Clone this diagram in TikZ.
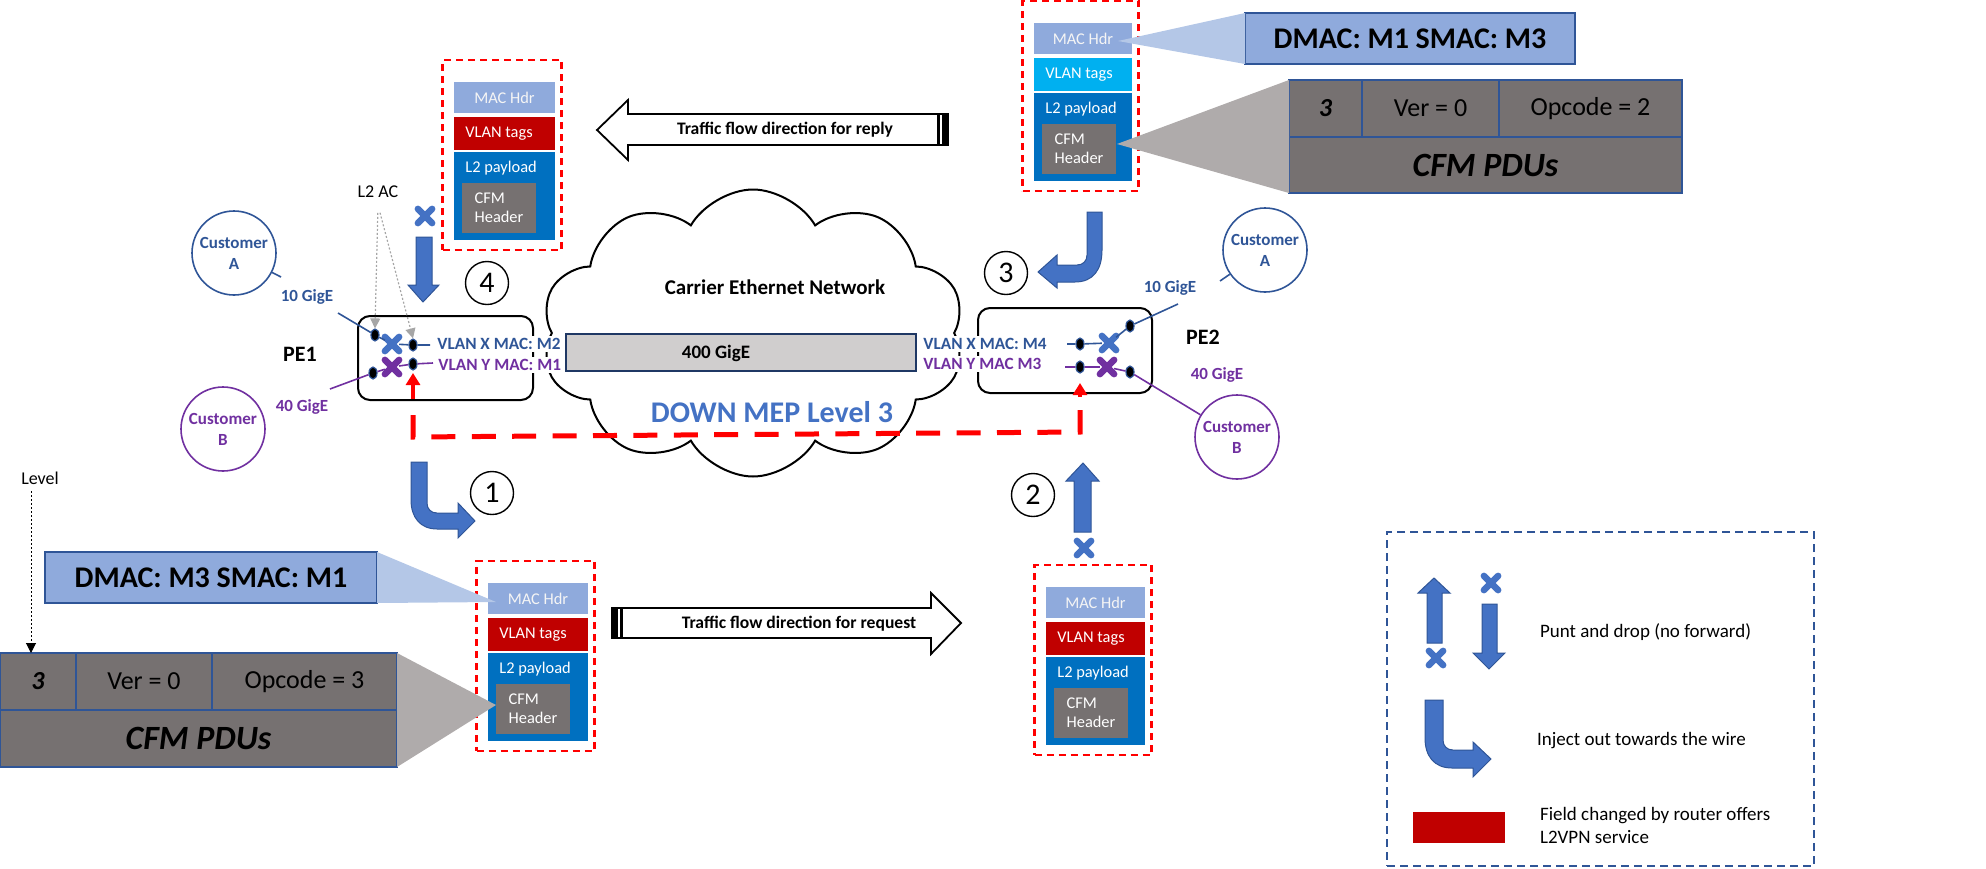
\documentclass[tikz,border=0pt]{standalone}
\usepackage{fontspec}
\setmainfont{Carlito}
\usetikzlibrary{shapes.geometric,shapes.symbols,shapes.misc,arrows.meta}

\definecolor{macblue}{HTML}{8FAADC}
\definecolor{vlanred}{HTML}{C00000}
\definecolor{vlancyan}{HTML}{00B0F0}
\definecolor{payblue}{HTML}{0070C0}
\definecolor{cfmgray}{HTML}{767171}
\definecolor{wedgeblue}{HTML}{B4C7E7}
\definecolor{wedgegray}{HTML}{AFABAB}
\definecolor{navy}{HTML}{2F5597}
\definecolor{dnavy}{HTML}{1F3864}
\definecolor{abl}{HTML}{4472C4}
\definecolor{purp}{HTML}{7030A0}
\definecolor{barg}{HTML}{D0CECE}
\definecolor{lgray}{HTML}{A6A6A6}

\newcommand{\fsz}[2]{\fontsize{#1}{#2}\selectfont}
% name, x1, y1, x2, y2, style, text
\newcommand{\bx}[7]{\node[#6,inner sep=0pt,outer sep=0pt,minimum width={((#4)-(#2))*0.5pt},minimum height={((#5)-(#3))*0.5pt}] (#1) at ({((#2)+(#4))/2},{((#3)+(#5))/2}) {#7};}
% prefix, x1, y1, width, vlan colour
\newcommand{\packet}[5]{%
 \bx{#1red}{#2-11.5}{#3-22}{#2+#4+6.5}{#3+168}{pktred}{}
 \bx{#1mac}{#2}{#3}{#2+#4}{#3+31}{fill=macblue,pkttxt,text=white!92!gray}{MAC Hdr}
 \bx{#1vlan}{#2}{#3+35}{#2+#4}{#3+68}{fill=#5}{}
 \node[pkttxt,anchor=west,inner sep=0pt] (#1vlant) at ({#2+11},{#3+51.5}) {VLAN tags};
 \bx{#1pay}{#2}{#3+70}{#2+#4}{#3+158}{fill=payblue}{}
 \node[pkttxt,anchor=west,inner sep=0pt] (#1payt) at ({#2+11},{#3+86}) {L2 payload};
 \bx{#1cfm}{#2+8}{#3+101}{#2+82}{#3+151}{fill=cfmgray,pkttxt,align=left}{CFM\\Header}
}

\tikzset{
 pktred/.style={draw=red,line width=1.1pt,dash pattern=on 3.5pt off 2.5pt},
 pkttxt/.style={text=white,font=\fsz{8.2pt}{9.5pt}},
 dmac/.style={fill=macblue,draw=navy,line width=1pt,font=\fsz{15pt}{18pt}\bfseries},
 cell/.style={fill=cfmgray,draw=navy,line width=1pt,font=\fsz{13pt}{15pt}},
 port/.style={ellipse,fill=black,draw=navy,line width=0.6pt,minimum width=4pt,minimum height=6pt,inner sep=0pt},
 xm/.style={cross out,draw=#1,line width=3.3pt,line cap=round,minimum size=3.8pt,inner sep=0pt},
 custA/.style={circle,draw=navy,line width=0.8pt,minimum size=42pt,inner sep=0pt,align=center,text=navy,font=\fsz{8.5pt}{10.5pt}\bfseries},
 custB/.style={circle,draw=purp,line width=0.8pt,minimum size=42pt,inner sep=0pt,align=center,text=purp,font=\fsz{8.5pt}{10.5pt}\bfseries},
 lnA/.style={draw=navy,line width=0.8pt},
 lnB/.style={draw=purp,line width=0.8pt},
 gigA/.style={text=navy,font=\fsz{8.5pt}{10pt}\bfseries},
 gigB/.style={text=purp,font=\fsz{8.5pt}{10pt}\bfseries},
 vlanA/.style={anchor=west,fill=white,inner sep=1pt,text=navy,font=\fsz{8.6pt}{10pt}\bfseries},
 vlanB/.style={anchor=west,fill=white,inner sep=1pt,text=purp,font=\fsz{8.6pt}{10pt}\bfseries},
 petxt/.style={font=\fsz{11pt}{13pt}\bfseries},
 pebox/.style={draw=black,line width=1pt,rounded corners=6pt},
 redarr/.style={draw=red,line width=2pt,-{Triangle[width=7pt,length=6pt]}},
 mep/.style={draw=red,line width=2.5pt,dash pattern=on 12pt off 8.2pt},
 barrow/.style={fill=abl,draw=navy,line width=0.5pt},
 flowarr/.style={draw=black,fill=white,line width=0.9pt,line join=miter},
 flowtxt/.style={font=\fsz{8.8pt}{10pt}\bfseries},
 cnum/.style={circle,draw=black,line width=0.7pt,minimum size=21.5pt,inner sep=0pt,font=\fsz{15pt}{15pt}},
 acarr/.style={draw=lgray,line width=0.6pt,dash pattern=on 1pt off 1pt,-{Triangle[width=5pt,length=5pt,fill=lgray]}},
 lvarr/.style={draw=black,line width=0.5pt,dash pattern=on 1pt off 1pt,-{Triangle[width=5pt,length=5pt]}},
 legtxt/.style={anchor=west,font=\fsz{9.5pt}{11.5pt},align=left},
 legbox/.style={draw=navy,line width=1pt,dash pattern=on 4pt off 2.5pt}
}

\begin{document}
\begin{tikzpicture}[x=0.5pt,y=-0.5pt]
\useasboundingbox (0,0) rectangle (1986,868);

% ---------- cloud ----------
\node[cloud,draw,line width=1pt,fill=white,cloud puffs=10,cloud puff arc=120,cloud ignores aspect,
  minimum width=211.5pt,minimum height=143.5pt,inner sep=0pt] (cloud) at (753,333) {};
\node[font=\fsz{10.5pt}{12pt}\bfseries] (cen) at (775,287) {Carrier Ethernet Network};

% ---------- PE boxes ----------
\bx{pe1}{358}{316}{533}{400}{pebox}{}
\bx{pe2}{978}{308}{1152}{393}{pebox}{}
\node[petxt] (pe1t) at (300,354) {PE1};
\node[petxt] (pe2t) at (1203,337) {PE2};

% ---------- 400G bar ----------
\bx{bar}{566}{334}{916}{371}{fill=barg,draw=dnavy,line width=1pt}{}
\node[font=\fsz{9.5pt}{11pt}\bfseries] (bart) at (716,353) {400 GigE};

% ---------- customers ----------
\node[custA] (cAL) at (234,253) {Customer\\A};
\node[custB] (cBL) at (223,429) {Customer\\B};
\node[custA] (cAR) at (1265,250) {Customer\\A};
\node[custB] (cBR) at (1237,437) {Customer\\B};

% ---------- ports and crosses ----------
\node[port] (dL1) at (375,335) {};
\node[port] (dL2) at (413,345) {};
\node[port] (dL3) at (413,364) {};
\node[port] (dL4) at (373,373) {};
\node[xm=abl] (xL1) at (392,344) {};
\node[xm=purp] (xL2) at (392,367) {};
\node[port] (dR1) at (1080,344) {};
\node[port] (dR2) at (1080,367) {};
\node[port] (dR3) at (1130,326) {};
\node[port] (dR4) at (1130,372) {};
\node[xm=abl] (xR1) at (1109,343) {};
\node[xm=purp] (xR2) at (1107,367) {};

\coordinate (tA1) at (281,277);
\coordinate (tA2) at (338,313);
\coordinate (eL1) at (430,345);
\coordinate (tB1) at (330,389);
\coordinate (eL2) at (433,363);
\coordinate (sR1) at (1067,344);
\coordinate (sR2) at (1065,367);
\coordinate (tR1) at (1178,304);
\coordinate (tR2) at (1220,281);

\draw[lnA] (cAL) -- (tA1);
\draw[lnA] (tA2) -- (dL1) -- (xL1) -- (dL2) -- (eL1);
\draw[lnB] (tB1) -- (dL4) -- (xL2) -- (dL3) -- (eL2);
\draw[lnA] (sR1) -- (dR1) -- (xR1) -- (dR3) -- (tR1);
\draw[lnA] (tR2) -- (cAR);
\draw[lnB] (sR2) -- (dR2) -- (xR2) -- (dR4) -- (cBR);

\node[gigA] (g10L) at (307,297) {10 GigE};
\node[gigB] (g40L) at (302,407) {40 GigE};
\node[gigA] (g10R) at (1170,288) {10 GigE};
\node[gigB] (g40R) at (1217,375) {40 GigE};

\node[vlanA] (vxL) at (435,344) {VLAN X MAC: M2};
\node[vlanB] (vyL) at (436,365) {VLAN Y MAC: M1};
\node[vlanA] (vxR) at (921,344) {VLAN X MAC: M4};
\node[vlanB] (vyR) at (921,364) {VLAN Y MAC M3};

% ---------- L2 AC ----------
\node[font=\fsz{9pt}{10pt}] (l2ac) at (378,192) {L2 AC};
\draw[acarr,shorten <=4pt] (l2ac.south) -- (dL1.north);
\draw[acarr,shorten <=4pt] (l2ac.south) -- (dL2.north);

% ---------- MEP path ----------
\coordinate (rLs) at (413,399);
\coordinate (rLt) at (413,373);
\coordinate (rRs) at (1080,397);
\coordinate (rRt) at (1080,383);
\draw[redarr] (rLs) -- (rLt);
\draw[redarr] (rRs) -- (rRt);
\coordinate (mL1) at (413,415);
\coordinate (mL2) at (413,437);
\coordinate (mR2) at (1080,432);
\coordinate (mR1) at (1080,410);
\draw[mep] (mL1) -- (mL2) -- (mR2) -- (mR1);
\node[text=abl,font=\fsz{15pt}{17pt}\bfseries] (mept) at (772,412) {DOWN MEP Level 3};

% ---------- packets ----------
\packet{A}{454}{82}{101}{vlanred}
\packet{B}{1034}{23}{98}{vlancyan}
\packet{C}{488}{583}{100}{vlanred}
\packet{D}{1046}{587}{99}{vlanred}

% ---------- detail boxes (top right) ----------
\bx{dmacB}{1245}{13}{1575}{64}{dmac}{DMAC: M1 SMAC: M3}
\bx{tB1}{1289}{80}{1362}{137}{cell,font=\fsz{13pt}{15pt}\bfseries\itshape}{3}
\bx{tB2}{1362}{80}{1499}{137}{cell}{Ver = 0}
\bx{tB3}{1499}{80}{1682}{137}{cell}{Opcode = 2}
\bx{tB4}{1289}{137}{1682}{193}{cell,font=\fsz{17pt}{20pt}\bfseries\itshape}{CFM PDUs}
\fill[wedgeblue] (1118,41) -- (dmacB.north west) -- (dmacB.south west) -- cycle;
\fill[wedgegray] (1117,144) -- (tB1.north west) -- (tB4.south west) -- cycle;

% ---------- detail boxes (bottom left) ----------
\bx{dmacC}{45}{552}{377}{603}{dmac}{DMAC: M3 SMAC: M1}
\bx{tC1}{0}{653}{76}{710}{cell,font=\fsz{13pt}{15pt}\bfseries\itshape}{3}
\bx{tC2}{76}{653}{212}{710}{cell}{Ver = 0}
\bx{tC3}{212}{653}{397}{710}{cell}{Opcode = 3}
\bx{tC4}{0}{710}{397}{767}{cell,font=\fsz{17pt}{20pt}\bfseries\itshape}{CFM PDUs}
\fill[wedgeblue] (496,602) -- (dmacC.north east) -- (dmacC.south east) -- cycle;
\fill[wedgegray] (496,705) -- (tC3.north east) -- (tC4.south east) -- cycle;

\node[font=\fsz{9pt}{10pt}] (lvl) at (40,478) {Level};
\coordinate (lvB) at (31,653);
\draw[lvarr] (lvl.south -| lvB) -- (lvB);

% ---------- flow arrows ----------
\draw[flowarr] (948,114) -- (628,114) -- (628,100) -- (597,130) -- (628,160) -- (628,145) -- (948,145) -- cycle;
\fill (942,114) rectangle (948,145);
\draw[line width=1.2pt] (938.5,114) -- (938.5,145);
\node[flowtxt] (replyt) at (785,130) {Traffic flow direction for reply};

\draw[flowarr] (612,608) -- (931,608) -- (931,593) -- (961,623) -- (931,654) -- (931,638) -- (612,638) -- cycle;
\fill (612,608) rectangle (618,638);
\draw[line width=1.2pt] (621.5,608) -- (621.5,638);
\node[flowtxt] (reqt) at (799,624) {Traffic flow direction for request};

% ---------- blue block arrows ----------
\node[xm=abl] (x4) at (425,216) {};
\draw[barrow] (416,237) -- (432,237) -- (432,285) -- (439,285) -- (423,302) -- (408,285) -- (416,285) -- cycle;
\node[xm=abl] (x2) at (1084,548) {};
\draw[barrow] (1074,532) -- (1091,532) -- (1091,481) -- (1099,481) -- (1083,463) -- (1066,481) -- (1074,481) -- cycle;
\draw[barrow] (411,462) -- (411,500) .. controls (411,517) and (420,529) .. (437,529) -- (458,529) -- (458,538) -- (475,521) -- (458,503) -- (458,513) -- (437,513) .. controls (431,513) and (427,509) .. (427,503) -- (427,462) -- cycle;
\draw[barrow] (1102,212) -- (1102,250) .. controls (1102,270) and (1093,282) .. (1075,282) -- (1057,282) -- (1057,288) -- (1038,272) -- (1057,255) -- (1057,265) -- (1077,265) .. controls (1083,265) and (1087,261) .. (1087,255) -- (1087,212) -- cycle;

\node[cnum] (n4) at (487,283) {4};
\node[cnum] (n3) at (1006,273) {3};
\node[cnum] (n1) at (492,493) {1};
\node[cnum] (n2) at (1033,495) {2};

% ---------- legend ----------
\bx{leg}{1387}{532}{1814}{866}{legbox}{}
\draw[barrow] (1427,643) -- (1442,643) -- (1442,593) -- (1450,593) -- (1434,578) -- (1418,593) -- (1427,593) -- cycle;
\node[xm=abl] (lx1) at (1436,658) {};
\node[xm=abl] (lx2) at (1491,583) {};
\draw[barrow] (1482,604) -- (1497,604) -- (1497,653) -- (1505,653) -- (1489,669) -- (1473,653) -- (1482,653) -- cycle;
\draw[barrow] (1425,700) -- (1425,738) .. controls (1425,756) and (1434,768) .. (1452,768) -- (1473,768) -- (1473,777) -- (1491,759) -- (1473,742) -- (1473,750) -- (1453,750) .. controls (1447,750) and (1443,746) .. (1443,740) -- (1443,700) -- cycle;
\bx{legred}{1413}{812}{1505}{843}{fill=vlanred}{}
\node[legtxt] (lt1) at (1533,632) {Punt and drop (no forward)};
\node[legtxt] (lt2) at (1530,741) {Inject out towards the wire};
\node[legtxt] (lt3) at (1533,825) {Field changed by router offers\\L2VPN service};

\end{tikzpicture}
\end{document}
